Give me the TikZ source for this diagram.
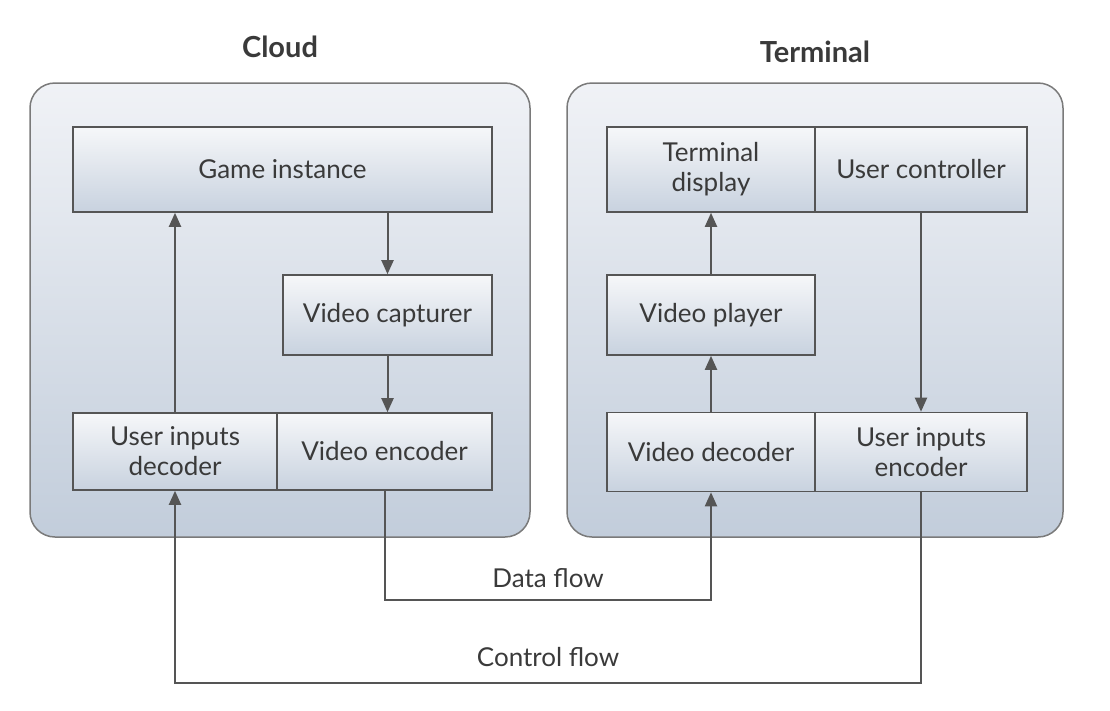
\documentclass[tikz,border=0pt]{standalone}
\usepackage{fontspec}
\setmainfont{Lato}
\usepackage{tikz}
\usetikzlibrary{arrows.meta}

\definecolor{linegray}{HTML}{555555}
\definecolor{framegray}{HTML}{7A7A7A}
\definecolor{paneltop}{HTML}{F0F2F6}
\definecolor{panelbot}{HTML}{C2CDDB}
\definecolor{moduletop}{HTML}{F6F7F9}
\definecolor{modulebot}{HTML}{C8D2DF}
\definecolor{textgray}{HTML}{3A3A3A}

\begin{document}
\begin{tikzpicture}[x=1pt,y=-1pt,
    panel/.style={rectangle,draw=framegray,line width=1.5pt,rounded corners=25pt,
      top color=paneltop,bottom color=panelbot,inner sep=0pt},
    module/.style={rectangle,draw=linegray,line width=1.6pt,top color=moduletop,
      bottom color=modulebot,inner sep=2pt,align=center,
      font=\fontsize{26}{30}\selectfont,text=textgray},
    title/.style={font=\fontsize{29}{34}\selectfont\bfseries,text=textgray},
    flowlabel/.style={font=\fontsize{26}{30}\selectfont,text=textgray},
    arr/.style={draw=linegray,line width=2pt,-{Triangle[length=14pt,width=12pt]}}]

\useasboundingbox (0,0) rectangle (1110,710);

\node[title] (cloudtitle) at (280,47) {Cloud};
\node[title] (termtitle) at (815,52) {Terminal};

\node[panel,minimum width=500pt,minimum height=454pt] (cloud) at (280,310) {};
\node[panel,minimum width=496pt,minimum height=454pt] (term) at (815,310) {};

\node[module,minimum width=419pt,minimum height=85pt] (gi) at (282.5,169.5) {Game instance};
\node[module,minimum width=209pt,minimum height=80pt] (vc) at (387.5,315) {Video capturer};
\node[module,minimum width=204pt,minimum height=77pt] (uid) at (175,451.5) {User inputs\\decoder};
\node[module,minimum width=215pt,minimum height=77pt] (ve) at (384.5,451.5) {Video encoder};

\node[module,minimum width=208pt,minimum height=85pt] (td) at (711,169.5) {Terminal\\display};
\node[module,minimum width=212pt,minimum height=85pt] (uc) at (921,169.5) {User controller};
\node[module,minimum width=208pt,minimum height=80pt] (vp) at (711,315) {Video player};
\node[module,minimum width=208pt,minimum height=79pt] (vd) at (711,452) {Video decoder};
\node[module,minimum width=212pt,minimum height=79pt] (uie) at (921,452) {User inputs\\encoder};

\draw[arr] (gi.south -| vc.north) -- (vc.north);
\draw[arr] (vc.south) -- (vc.south |- ve.north);
\draw[arr] (uid.north) -- (uid.north |- gi.south);

\draw[arr] (vd.north) -- (vp.south);
\draw[arr] (vp.north) -- (td.south);
\draw[arr] (uc.south) -- (uc.south |- uie.north);

\coordinate (df) at (550,600);
\coordinate (cf) at (550,683);
\draw[arr] (ve.south) |- (df) -| (vd.south);
\draw[arr] (uie.south) |- (cf) -| (uid.south);

\node[flowlabel] (dflabel) at (548,578) {Data flow};
\node[flowlabel] (cflabel) at (548,657) {Control flow};
\end{tikzpicture}
\end{document}
